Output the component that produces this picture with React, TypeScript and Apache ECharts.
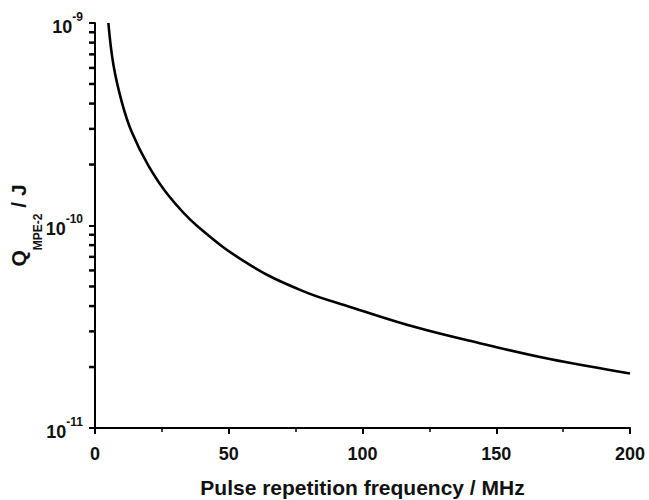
import React, { useEffect, useRef } from "react";
import * as echarts from "echarts";

// Pulse repetition frequency (MHz) and Q_MPE-2 (J)
const freqMHz = [5, 6.9, 10, 13.7, 19.9, 27.4, 38, 57.3, 77.3, 96, 120, 145, 170, 200];
const qMPE2 = [1.0e-9, 6.2e-10, 4.08e-10, 2.9e-10, 1.98e-10, 1.41e-10, 1.0e-10, 6.46e-11, 4.77e-11, 3.94e-11, 3.14e-11, 2.6e-11, 2.19e-11, 1.86e-11];

// x ticks
const xTicks = [0, 50, 100, 150, 200];
// y decades (exponents of ten) for tick labels
const yExponents = [-11, -10, -9];
// y minor (log) tick values
const yMinorTicks = [
  2e-11, 3e-11, 4e-11, 5e-11, 6e-11, 7e-11, 8e-11, 9e-11,
  2e-10, 3e-10, 4e-10, 5e-10, 6e-10, 7e-10, 8e-10, 9e-10,
];

const FONT = "'Liberation Sans', Arial, Helvetica, sans-serif";

export default function App() {
  const ref = useRef<HTMLDivElement>(null);
  useEffect(() => {
    if (!ref.current) return;
    const chart = echarts.init(ref.current, null, { renderer: "svg" });
    const yMin = Math.pow(10, yExponents[0]);
    const yMax = Math.pow(10, yExponents[yExponents.length - 1]);
    chart.setOption({
      animation: false,
      backgroundColor: "#ffffff",
      grid: {
        left: 95,
        right: 19,
        top: 23,
        bottom: 72,
        containLabel: false,
        outerBoundsMode: "none",
      },
      xAxis: {
        type: "value",
        min: xTicks[0],
        max: xTicks[xTicks.length - 1],
        interval: xTicks[1] - xTicks[0],
        name: "Pulse repetition frequency / MHz",
        nameLocation: "middle",
        nameGap: 49,
        nameMoveOverlap: false,
        nameTextStyle: { fontFamily: FONT, fontSize: 21, fontWeight: "bold", color: "#111" },
        axisLine: { onZero: false, lineStyle: { color: "#000", width: 2 } },
        axisTick: { show: true, inside: false, length: 6, lineStyle: { color: "#000", width: 2 } },
        minorTick: { show: true, splitNumber: 2, length: 4, lineStyle: { color: "#000", width: 1.5 } },
        axisLabel: { margin: 17, fontFamily: FONT, fontSize: 18, fontWeight: "bold", color: "#111" },
        splitLine: { show: false },
      },
      yAxis: {
        type: "log",
        logBase: 10,
        min: yMin,
        max: yMax,
        name: "{q|Q}{s|MPE-2}{q| / J}",
        nameLocation: "middle",
        nameGap: 51,
        nameMoveOverlap: false,
        nameTextStyle: {
          fontFamily: FONT,
          color: "#111",
          rich: {
            q: { fontFamily: FONT, fontSize: 21, fontWeight: "bold", color: "#111", verticalAlign: "top" },
            s: { fontFamily: FONT, fontSize: 12, fontWeight: "bold", color: "#111", padding: [24, 0, 0, 0] },
          },
        },
        axisLine: { show: true, lineStyle: { color: "#000", width: 2 } },
        axisTick: { show: true, inside: false, length: 6, lineStyle: { color: "#000", width: 2 } },
        minorTick: { show: false },
        splitLine: { show: false },
        axisLabel: {
          margin: 12,
          formatter: (v: number) => {
            const e = Math.round(Math.log10(v));
            return "{b|10}{s|" + e + "}";
          },
          rich: {
            b: { fontFamily: FONT, fontSize: 18, fontWeight: "bold", color: "#111", verticalAlign: "bottom" },
            s: { fontFamily: FONT, fontSize: 12, fontWeight: "bold", color: "#111", padding: [0, 0, 13, 0] },
          },
        },
      },
      series: [
        {
          type: "line",
          data: freqMHz.map((f, i) => [f, qMPE2[i]]),
          showSymbol: false,
          smooth: 0.4,
          lineStyle: { color: "#000", width: 2.6 },
          z: 3,
        },
        {
          // minor log ticks on the y axis
          type: "scatter",
          clip: false,
          silent: true,
          data: yMinorTicks.map((v) => [0, v]),
          symbol: "rect",
          symbolSize: [6, 2.5],
          symbolOffset: [-3, 0],
          itemStyle: { color: "#000", opacity: 1 },
          z: 4,
        },
      ],
    });
    return () => chart.dispose();
  }, []);
  return (
    <div
      ref={ref}
      style={{ position: "fixed", left: 0, top: 0, width: 649, height: 500 }}
    />
  );
}
